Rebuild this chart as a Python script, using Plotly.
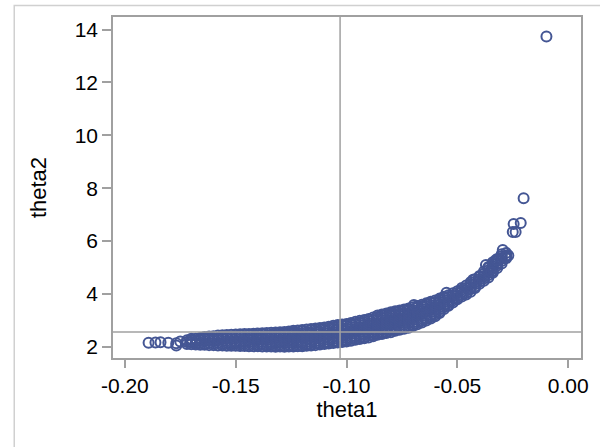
import plotly.graph_objects as go

# ---- data (theta1 column value -> theta2 values) ----
band_theta1 = [
    -0.1893, -0.1862, -0.1839, -0.1804, -0.1768, -0.1750,
    -0.172, -0.170, -0.168, -0.166, -0.164, -0.162, -0.160, -0.158, -0.156, -0.154,
    -0.152, -0.150, -0.148, -0.146, -0.144, -0.142, -0.140, -0.138, -0.136, -0.134,
    -0.132, -0.130, -0.128, -0.126, -0.124, -0.122, -0.120, -0.118, -0.116, -0.114,
    -0.112, -0.110, -0.108, -0.106, -0.104, -0.102, -0.100, -0.098, -0.096, -0.094,
    -0.092, -0.090, -0.088, -0.086, -0.084, -0.082, -0.080, -0.078, -0.076, -0.074,
    -0.072, -0.070, -0.068, -0.066, -0.064, -0.062, -0.060, -0.058, -0.056, -0.054,
    -0.052, -0.050, -0.048, -0.046, -0.044, -0.042, -0.040, -0.038, -0.036, -0.034,
    -0.032, -0.030, -0.028, -0.027,
]
band_theta2 = [
    [2.15], [2.16], [2.17], [2.15], [2.13, 2.05], [2.20],
    [2.10, 2.18, 2.24],
    [2.09, 2.17, 2.25, 2.30],
    [2.08, 2.14, 2.22, 2.30],
    [2.07, 2.16, 2.25, 2.33],
    [2.07, 2.12, 2.21, 2.30, 2.37],
    [2.06, 2.15, 2.24, 2.33, 2.39],
    [2.06, 2.12, 2.21, 2.30, 2.40],
    [2.05, 2.15, 2.24, 2.33, 2.42],
    [2.05, 2.11, 2.20, 2.29, 2.38, 2.43],
    [2.04, 2.14, 2.23, 2.32, 2.41, 2.44],
    [2.04, 2.10, 2.19, 2.28, 2.37, 2.45],
    [2.04, 2.13, 2.22, 2.31, 2.40, 2.46],
    [2.03, 2.09, 2.18, 2.27, 2.36, 2.44, 2.47],
    [2.03, 2.12, 2.21, 2.30, 2.39, 2.48],
    [2.02, 2.08, 2.17, 2.26, 2.35, 2.44, 2.48],
    [2.02, 2.11, 2.20, 2.29, 2.38, 2.46, 2.49],
    [2.02, 2.07, 2.16, 2.25, 2.34, 2.43, 2.50],
    [2.01, 2.10, 2.19, 2.28, 2.37, 2.46, 2.51],
    [2.01, 2.06, 2.15, 2.24, 2.33, 2.42, 2.52],
    [2.01, 2.09, 2.18, 2.27, 2.36, 2.45, 2.53],
    [2.00, 2.05, 2.14, 2.23, 2.32, 2.41, 2.50, 2.54],
    [2.01, 2.08, 2.17, 2.26, 2.35, 2.44, 2.52, 2.55],
    [2.00, 2.04, 2.13, 2.22, 2.31, 2.40, 2.49, 2.56],
    [2.01, 2.07, 2.16, 2.25, 2.34, 2.43, 2.52, 2.58],
    [2.01, 2.04, 2.13, 2.22, 2.31, 2.40, 2.49, 2.56, 2.60],
    [2.02, 2.08, 2.17, 2.26, 2.35, 2.44, 2.53, 2.61],
    [2.02, 2.05, 2.14, 2.23, 2.32, 2.41, 2.50, 2.59, 2.63],
    [2.04, 2.10, 2.19, 2.28, 2.37, 2.46, 2.55, 2.65],
    [2.05, 2.08, 2.17, 2.26, 2.35, 2.44, 2.53, 2.62, 2.67],
    [2.06, 2.13, 2.22, 2.31, 2.40, 2.49, 2.58, 2.66, 2.69],
    [2.08, 2.12, 2.21, 2.30, 2.39, 2.48, 2.57, 2.66, 2.71],
    [2.10, 2.17, 2.26, 2.35, 2.44, 2.53, 2.62, 2.70, 2.73],
    [2.12, 2.16, 2.25, 2.34, 2.43, 2.52, 2.61, 2.70, 2.76],
    [2.14, 2.21, 2.30, 2.39, 2.48, 2.57, 2.66, 2.74, 2.79],
    [2.16, 2.20, 2.29, 2.38, 2.47, 2.56, 2.65, 2.74, 2.82],
    [2.18, 2.25, 2.34, 2.43, 2.52, 2.61, 2.70, 2.79, 2.84],
    [2.20, 2.24, 2.33, 2.42, 2.51, 2.60, 2.69, 2.78, 2.86],
    [2.23, 2.30, 2.39, 2.48, 2.57, 2.66, 2.75, 2.84, 2.90],
    [2.26, 2.31, 2.40, 2.49, 2.58, 2.67, 2.76, 2.85, 2.94],
    [2.29, 2.37, 2.46, 2.55, 2.64, 2.73, 2.82, 2.91, 2.98],
    [2.32, 2.38, 2.47, 2.56, 2.65, 2.74, 2.83, 2.92, 3.01],
    [2.35, 2.43, 2.52, 2.61, 2.70, 2.79, 2.88, 2.97, 3.05],
    [2.40, 2.46, 2.55, 2.64, 2.73, 2.82, 2.91, 3.00, 3.11],
    [2.45, 2.51, 2.60, 2.69, 2.78, 2.87, 2.96, 3.05, 3.12, 3.18],
    [2.48, 2.55, 2.64, 2.73, 2.82, 2.91, 3.00, 3.09, 3.18, 3.22],
    [2.52, 2.58, 2.67, 2.76, 2.85, 2.94, 3.03, 3.12, 3.21, 3.26],
    [2.55, 2.63, 2.72, 2.81, 2.90, 2.99, 3.08, 3.17, 3.25, 3.30],
    [2.60, 2.66, 2.75, 2.84, 2.93, 3.02, 3.11, 3.20, 3.29, 3.34],
    [2.64, 2.71, 2.80, 2.89, 2.98, 3.07, 3.16, 3.25, 3.33, 3.37],
    [2.68, 2.74, 2.83, 2.92, 3.01, 3.10, 3.19, 3.28, 3.37, 3.41],
    [2.72, 2.80, 2.89, 2.98, 3.07, 3.16, 3.25, 3.34, 3.42, 3.45],
    [2.78, 2.84, 2.93, 3.02, 3.11, 3.20, 3.29, 3.38, 3.49],
    [2.85, 2.93, 3.02, 3.11, 3.20, 3.29, 3.38, 3.47, 3.54],
    [2.92, 2.98, 3.07, 3.16, 3.25, 3.34, 3.43, 3.52, 3.59],
    [2.99, 3.07, 3.16, 3.25, 3.34, 3.43, 3.52, 3.60, 3.64],
    [3.07, 3.12, 3.21, 3.30, 3.39, 3.48, 3.57, 3.66, 3.70],
    [3.15, 3.22, 3.31, 3.40, 3.49, 3.58, 3.67, 3.75],
    [3.28, 3.33, 3.42, 3.51, 3.60, 3.69, 3.78, 3.82],
    [3.43, 3.50, 3.59, 3.68, 3.77, 3.85, 3.89],
    [3.55, 3.60, 3.69, 3.78, 3.87, 3.95],
    [3.67, 3.75, 3.84, 3.93, 4.02],
    [3.80, 3.85, 3.94, 4.03, 4.10],
    [3.90, 3.98, 4.07, 4.16, 4.22],
    [3.98, 4.04, 4.13, 4.22, 4.32],
    [4.08, 4.17, 4.26, 4.35, 4.44],
    [4.22, 4.28, 4.37, 4.46, 4.55],
    [4.38, 4.46, 4.55, 4.64, 4.68],
    [4.50, 4.58, 4.67, 4.76, 4.85],
    [4.62, 4.71, 4.80, 4.89, 4.98, 5.02],
    [4.80, 4.86, 4.95, 5.04, 5.13, 5.20],
    [4.98, 5.07, 5.16, 5.25, 5.32],
    [5.15, 5.24, 5.33, 5.42, 5.50],
    [5.35, 5.45, 5.55],
    [5.45],
]
# isolated points read individually
extra_theta1 = [-0.0696, -0.0549, -0.0429, -0.0371, -0.0348, -0.0326, -0.0295, -0.0281,
                -0.0250, -0.0237, -0.0246, -0.0214, -0.0201, -0.0098]
extra_theta2 = [3.58, 4.04, 4.53, 5.09, 4.83, 5.28, 5.66, 5.40,
                6.34, 6.34, 6.64, 6.68, 7.62, 13.74]

ref_theta1 = -0.1029   # vertical reference line
ref_theta2 = 2.556     # horizontal reference line

x_ticks = [-0.20, -0.15, -0.10, -0.05, 0.00]
x_tick_text = ["-0.20", "-0.15", "-0.10", "-0.05", "0.00"]
y_ticks = [2, 4, 6, 8, 10, 12, 14]

# ---- flatten ----
theta1, theta2 = [], []
for xv, ys in zip(band_theta1, band_theta2):
    for yv in ys:
        theta1.append(xv)
        theta2.append(yv)
theta1 += extra_theta1
theta2 += extra_theta2

MARK = "#445694"
GRAY = "#A0A0A0"
FONT = "Liberation Sans, Arial, sans-serif"

fig = go.Figure()
fig.add_trace(go.Scatter(
    x=theta1, y=theta2, mode="markers",
    marker=dict(symbol="circle-open", size=10, color=MARK, line=dict(width=2, color=MARK)),
    showlegend=False, hoverinfo="x+y",
))

fig.add_shape(type="line", xref="x", yref="paper", x0=ref_theta1, x1=ref_theta1, y0=0, y1=1,
              line=dict(color=GRAY, width=1.5), layer="above")
fig.add_shape(type="line", xref="paper", yref="y", x0=0, x1=1, y0=ref_theta2, y1=ref_theta2,
              line=dict(color=GRAY, width=1.5), layer="above")
# outer border of the graph
fig.add_shape(type="rect", xref="paper", yref="paper", x0=-0.211, x1=1.5, y0=-1.0, y1=1.034,
              line=dict(color="#D0D0D0", width=1.5), fillcolor="rgba(0,0,0,0)", layer="below")

fig.update_layout(
    width=600, height=447,
    margin=dict(l=113, r=13, t=17, b=89),
    paper_bgcolor="white", plot_bgcolor="white",
    font=dict(family=FONT, color="#000000", size=20),
    xaxis=dict(
        range=[-0.20535, 0.00579], tickvals=x_ticks, ticktext=x_tick_text,
        ticks="outside", ticklen=8, tickcolor=GRAY, tickwidth=1.5,
        showline=True, linecolor=GRAY, linewidth=1.5, mirror=True,
        showgrid=False, zeroline=False,
        tickfont=dict(size=21, family=FONT, color="#000000"),
        title=dict(text="theta1", font=dict(size=22, family=FONT, color="#000000"), standoff=6),
    ),
    yaxis=dict(
        range=[1.573, 14.476], tickvals=y_ticks,
        ticks="outside", ticklen=9, tickcolor=GRAY, tickwidth=1.5,
        showline=True, linecolor=GRAY, linewidth=1.5, mirror=True,
        showgrid=False, zeroline=False,
        tickfont=dict(size=21, family=FONT, color="#000000"),
        title=dict(text="theta2", font=dict(size=22, family=FONT, color="#000000"), standoff=22),
    ),
)

fig.write_html("out.html")
